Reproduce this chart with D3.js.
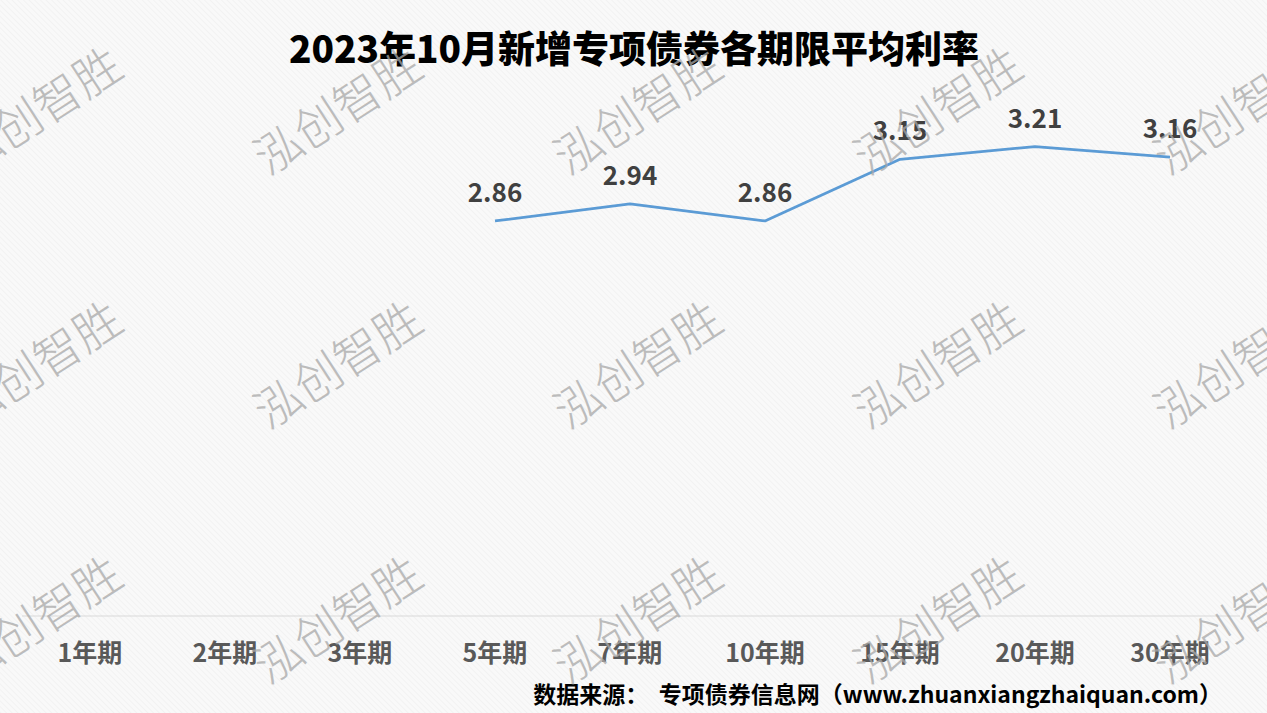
<!DOCTYPE html>
<html>
<head>
<meta charset="utf-8">
<script src="https://cdn.jsdelivr.net/npm/d3@7/dist/d3.min.js"></script>
<style>
  html, body { margin: 0; padding: 0; background: #f8f8f8; }
  svg { display: block; }
</style>
</head>
<body>
<svg id="chart" width="1267" height="713"></svg>
<script>
const categories = ['1年期', '2年期', '3年期', '5年期', '7年期', '10年期', '15年期', '20年期', '30年期'];
const rates = [null, null, null, 2.86, 2.94, 2.86, 3.15, 3.21, 3.16];
const title = '2023年10月新增专项债券各期限平均利率';
const source = '数据来源：  专项债券信息网（www.zhuanxiangzhaiquan.com）';
const watermark = '泓创智胜';

const W = 1267, H = 713;
const font = '"Noto Sans CJK SC", "Noto Sans", sans-serif';
const svg = d3.select('#chart');

// faint diagonal hatch background
const defs = svg.append('defs');
const pat = defs.append('pattern').attr('id', 'hatch').attr('width', 4).attr('height', 4)
  .attr('patternUnits', 'userSpaceOnUse').attr('patternTransform', 'rotate(-45)');
pat.append('rect').attr('width', 4).attr('height', 4).attr('fill', '#f9f9f9');
pat.append('line').attr('x1', 0).attr('y1', 0).attr('x2', 0).attr('y2', 4).attr('stroke', '#eeeeee').attr('stroke-width', 1.2);
svg.append('rect').attr('width', W).attr('height', H).attr('fill', 'url(#hatch)');

const x = d3.scalePoint().domain(categories).range([90, 1170]);
const y = d3.scaleLinear().domain([1, 3.5]).range([616, 85]);

// category axis
svg.append('line').attr('x1', 22).attr('x2', 1240).attr('y1', y(1)).attr('y2', y(1))
  .attr('stroke', '#d9d9d9').attr('stroke-width', 1);
svg.append('g').selectAll('text').data(categories).join('text')
  .attr('x', d => x(d)).attr('y', 662)
  .attr('text-anchor', 'middle').attr('font-family', font).attr('font-weight', 'bold')
  .attr('font-size', 25).attr('fill', '#595959').text(d => d);

// line
const points = categories.map((c, i) => ({ c, v: rates[i] })).filter(d => d.v != null);
const line = d3.line().x(d => x(d.c)).y(d => y(d.v));
svg.append('path').datum(points).attr('d', line).attr('fill', 'none')
  .attr('stroke', '#5b9bd5').attr('stroke-width', 2.75).attr('stroke-linejoin', 'round');

svg.append('g').selectAll('text').data(points).join('text')
  .attr('x', d => x(d.c)).attr('y', d => y(d.v) - 19)
  .attr('text-anchor', 'middle').attr('font-family', font).attr('font-weight', 'bold')
  .attr('font-size', 26).attr('fill', '#404040').text(d => d.v.toFixed(2));

// title
svg.append('text').attr('x', 634).attr('y', 63).attr('text-anchor', 'middle')
  .attr('font-family', font).attr('font-weight', 900).attr('font-size', 37)
  .attr('fill', '#000').text(title);

// source
svg.append('text').attr('x', 1222).attr('y', 703).attr('text-anchor', 'end')
  .attr('font-family', font).attr('font-weight', 'bold').attr('font-size', 23)
  .attr('fill', '#000').attr('xml:space', 'preserve').text(source);

// watermark grid
const wmCols = d3.range(5).map(i => 36 + i * 300);
const wmRows = [108, 362, 617];
const wm = svg.append('g').attr('pointer-events', 'none');
wmRows.forEach(cy => wmCols.forEach(cx => {
  wm.append('text').attr('transform', `translate(${cx},${cy}) rotate(-33)`)
    .attr('text-anchor', 'middle').attr('dominant-baseline', 'central')
    .attr('font-family', font).attr('font-weight', 300).attr('font-size', 47)
    .attr('fill', '#a8a8a8').attr('opacity', 0.75)
    .text(watermark);
}));
</script>
</body>
</html>
